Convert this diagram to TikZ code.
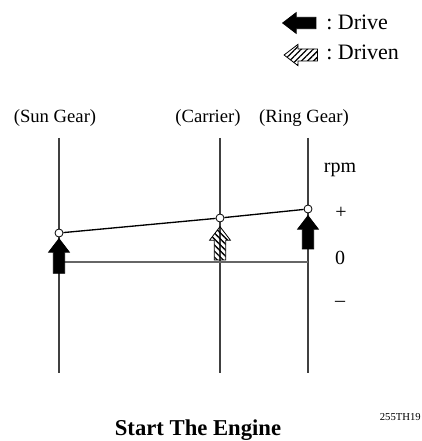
\documentclass[tikz,border=0pt]{standalone}
\usepackage{fontspec}
\setmainfont{Liberation Serif}
\usetikzlibrary{shapes.arrows,patterns.meta}

\begin{document}
\begin{tikzpicture}[
x=0.75pt,
y=-0.75pt,
every node/.style={inner sep=0pt},
gearlbl/.style={font=\fontsize{14}{16}\selectfont},
legendlbl/.style={font=\fontsize{16.5}{18}\selectfont, anchor=west},
axis/.style={line width=1pt, black!75},
pivot/.style={circle, draw, fill=white, minimum size=6pt, line width=0.6pt},
drive/.style={single arrow, draw, fill=black, line width=0.6pt,
    inner xsep=0pt, inner ysep=4pt,
    minimum height=25pt, minimum width=15pt,
    single arrow head extend=3.5pt, single arrow tip angle=75, anchor=tip},
driven/.style={drive, fill=none,
    pattern={Lines[angle=-45,distance=3.2pt,line width=1pt]}}
]
\useasboundingbox (0,0) rectangle (421,441);

%---------------- Legend ----------------
\node[drive, rotate=180] (drivekey) at (282,23) {};
\node[legendlbl] (drivetxt) at (326,22) {:\ Drive};
\node[driven, rotate=180, pattern={Lines[angle=45,distance=3.2pt,line width=1pt]}] (drivenkey) at (283,55) {};
\node[legendlbl] (driventxt) at (326,52) {:\ Driven};

%---------------- Axes ----------------
\node[gearlbl] (sunlbl) at (55,118) {(Sun Gear)};
\node[gearlbl] (carlbl) at (208,118) {(Carrier)};
\node[gearlbl] (ringlbl) at (304,118) {(Ring Gear)};

\coordinate (suntop) at (59,138);
\coordinate (sunbot) at (59,373);
\coordinate (cartop) at (220,138);
\coordinate (carbot) at (220,373);
\coordinate (ringtop) at (308,138);
\coordinate (ringbot) at (308,373);
\coordinate (zsun) at (59,262);
\coordinate (zring) at (308,262);

\draw[axis] (suntop) -- (sunbot);
\draw[axis] (cartop) -- (carbot);
\draw[axis] (ringtop) -- (ringbot);
\draw[axis, black!60] (zsun) -- (zring);

\node[font=\fontsize{15}{17}\selectfont] (rpm) at (340,170) {rpm};
\node[font=\fontsize{15}{17}\selectfont] (plus) at (341,213) {+};
\node[font=\fontsize{15}{17}\selectfont] (zero) at (340,258) {0};
\node[font=\fontsize{15}{17}\selectfont] (minus) at (340,304) {–};

%---------------- Speeds ----------------
\node[drive, rotate=90, minimum height=26pt] (sunarr) at (59,238) {};
\node[driven, rotate=90] (cararr) at (220,226) {};
\node[drive, rotate=90] (ringarr) at (308,215) {};

\node[pivot] (sun) at (59,233) {};
\node[pivot] (car) at (220,218) {};
\node[pivot] (ring) at (308,209) {};

\draw[line width=1pt] (sun) -- (car) -- (ring);

\node[font=\bfseries\fontsize{17}{19}\selectfont] (title) at (198,430) {Start The Engine};
\node[font=\fontsize{8}{9}\selectfont, anchor=east] (code) at (421,417) {255TH19};

\end{tikzpicture}
\end{document}
